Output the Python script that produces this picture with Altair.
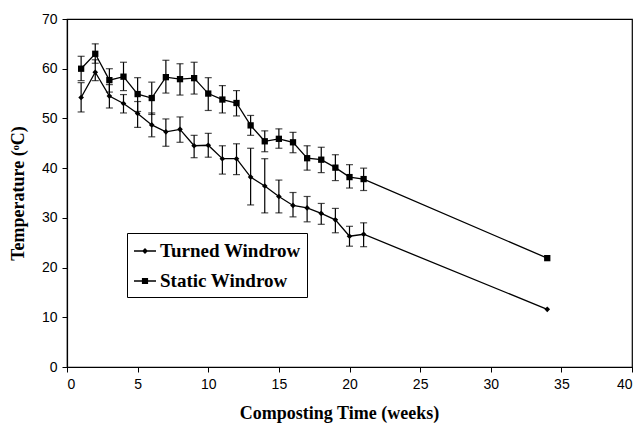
import altair as alt
import pandas as pd

weeks = [1, 2, 3, 4, 5, 6, 7, 8, 9, 10, 11, 12, 13, 14, 15, 16, 17, 18, 19, 20, 21, 34]
series_names = ["Turned Windrow", "Static Windrow"]

turned = [54.2, 59.3, 54.5, 53.0, 51.0, 48.7, 47.3, 47.8, 44.5, 44.6, 41.9, 41.9, 38.2, 36.4, 34.3, 32.5, 32.0, 30.9, 29.6, 26.3, 26.7, 11.6]
turned_lo = [51.3, 57.6, 52.1, 51.1, 48.2, 46.3, 44.4, 45.2, 42.1, 42.2, 38.8, 38.7, 32.6, 31.0, 31.0, 30.2, 29.2, 28.7, 27.0, 24.3, 24.2, None]
turned_hi = [57.2, 61.8, 56.8, 54.8, 53.4, 51.1, 49.9, 50.3, 46.6, 47.0, 44.5, 44.9, 44.0, 41.9, 37.6, 35.1, 34.3, 32.9, 31.9, 28.3, 29.0, None]

static = [60.0, 63.0, 57.7, 58.4, 54.9, 54.1, 58.3, 57.9, 58.1, 55.0, 53.8, 53.1, 48.6, 45.4, 45.9, 45.2, 42.0, 41.7, 40.1, 38.2, 37.8, 21.9]
static_lo = [57.6, 61.1, 55.3, 55.6, 51.4, 50.8, 55.1, 54.7, 54.9, 51.6, 51.1, 50.5, 46.6, 43.3, 44.0, 43.1, 39.6, 39.1, 37.5, 36.0, 35.5, None]
static_hi = [62.5, 65.0, 60.0, 61.3, 58.2, 57.3, 61.7, 61.0, 61.3, 58.2, 56.6, 55.6, 50.6, 47.5, 47.9, 47.2, 44.5, 44.2, 42.7, 40.7, 40.0, None]

x_ticks = [0, 5, 10, 15, 20, 25, 30, 35, 40]
y_ticks = [0, 10, 20, 30, 40, 50, 60, 70]

rows = []
for name, vals, lo, hi in [(series_names[0], turned, turned_lo, turned_hi),
                           (series_names[1], static, static_lo, static_hi)]:
    for w, v, l, h in zip(weeks, vals, lo, hi):
        rows.append({"week": w, "series": name, "temp": v, "lo": l, "hi": h})
df = pd.DataFrame(rows)
df_err = df.dropna(subset=["lo", "hi"])

xenc = alt.X("week:Q", scale=alt.Scale(domain=[0, 40], nice=False),
             axis=alt.Axis(values=x_ticks, title="Composting Time (weeks)", titlePadding=13,
                           titleX=272, titleAlign="center"))
yenc = alt.Y("temp:Q", scale=alt.Scale(domain=[0, 70], nice=False),
             axis=alt.Axis(values=y_ticks, title="Temperature (ᵒC)", titlePadding=14))

base = alt.Chart(df)

line = base.mark_line(color="black", strokeWidth=1.3).encode(x=xenc, y=yenc, detail="series:N")

err = alt.Chart(df_err).mark_rule(color="black", strokeWidth=1.2).encode(
    x="week:Q", y="lo:Q", y2="hi:Q")
cap_lo = alt.Chart(df_err).mark_tick(color="black", orient="horizontal", size=7, thickness=1.2).encode(
    x="week:Q", y="lo:Q")
cap_hi = alt.Chart(df_err).mark_tick(color="black", orient="horizontal", size=7, thickness=1.2).encode(
    x="week:Q", y="hi:Q")

points = base.mark_point(filled=True, color="black", opacity=1, size=44).encode(
    x="week:Q", y="temp:Q",
    shape=alt.Shape("series:N",
                    scale=alt.Scale(domain=series_names,
                                    range=["M0,-0.85L0.85,0L0,0.85L-0.85,0Z",
                                           "M-0.95,-0.95H0.95V0.95H-0.95Z"]),
                    legend=None))

legend_layer = base.mark_point(filled=True, color="black", opacity=0).encode(
    x="week:Q", y="temp:Q",
    shape=alt.Shape("series:N",
                    scale=alt.Scale(domain=series_names,
                                    range=["M-1,-0.06H1V0.06H-1ZM0,-0.27L0.27,0L0,0.27L-0.27,0Z",
                                           "M-1,-0.06H1V0.06H-1ZM-0.28,-0.28H0.28V0.28H-0.28Z"]),
                    legend=alt.Legend(title=None, orient="none", legendX=60, legendY=214,
                                      strokeColor="black", fillColor="white", padding=6,
                                      labelFont="Liberation Serif", labelFontSize=19,
                                      labelFontWeight="bold", labelColor="black",
                                      symbolOpacity=1, symbolFillColor="black",
                                      symbolSize=484, rowPadding=8, labelOffset=3)))

chart = alt.layer(line, err, cap_lo, cap_hi, points, legend_layer).resolve_scale(
    shape="independent"
).properties(
    width=565, height=348,
    autosize=alt.AutoSizeParams(type="none"),
    padding={"left": 67, "top": 19, "right": 5, "bottom": 58},
).configure_view(stroke="black", strokeWidth=1.2).configure_axis(
    grid=False, domainColor="black", domainWidth=1.2, tickColor="black", tickSize=5,
    labelFont="Liberation Sans", labelFontSize=14, labelColor="black", labelPadding=5,
    titleFont="Liberation Serif", titleFontSize=18, titleFontWeight="bold", titleColor="black",
)

chart.save("out.html", embed_options={"renderer": "svg", "actions": False})
